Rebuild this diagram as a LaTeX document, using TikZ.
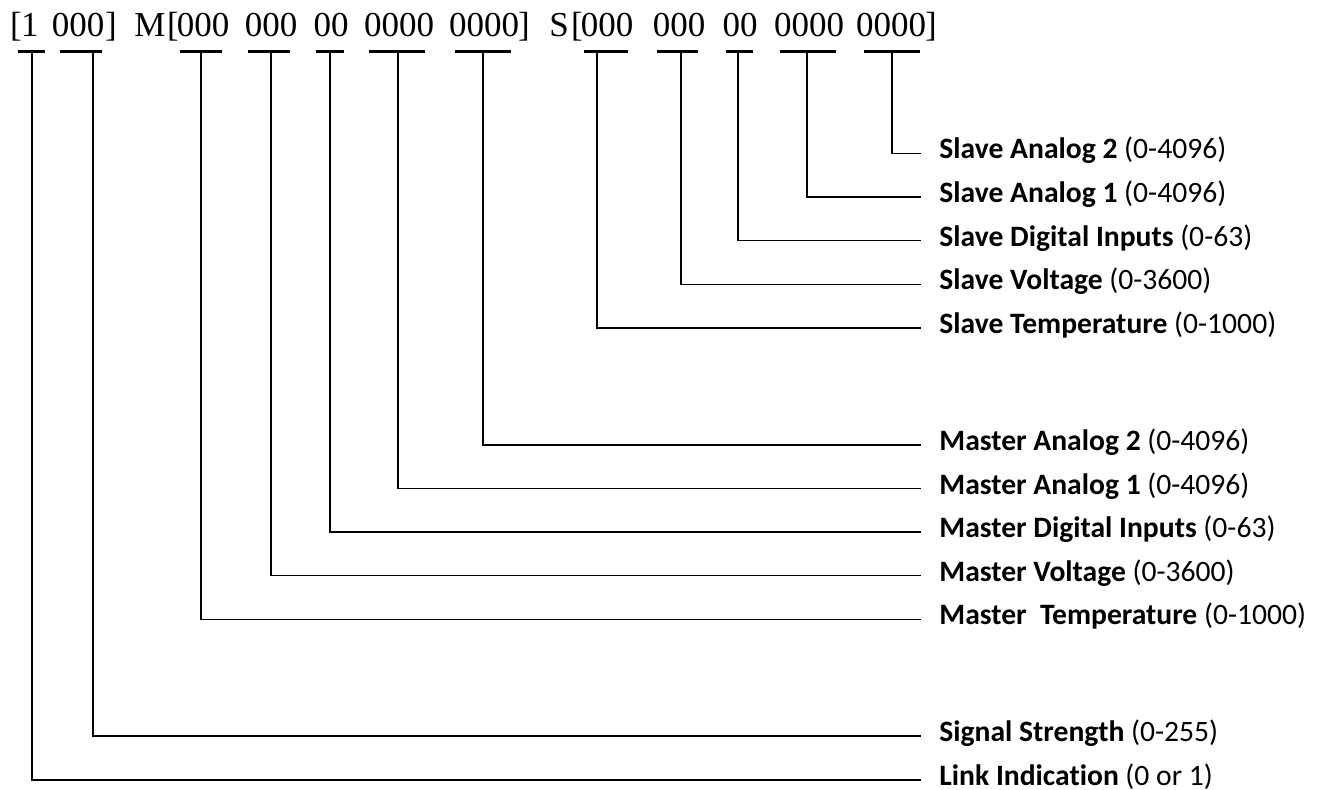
\documentclass[tikz,border=0pt]{standalone}
\usepackage{fontspec}
\newfontfamily\headfont{Liberation Serif}
\newfontfamily\labelfont[Ligatures=NoCommon]{Carlito}

\begin{document}
\begin{tikzpicture}[
		x=0.5pt, y=-0.5pt,
		digits/.style={font=\headfont\fontsize{17.5}{20}\selectfont, inner sep=0pt, anchor=base},
		bar/.style={fill=black},
		field/.style={anchor=west, inner xsep=9pt, inner ysep=0pt, text height=9.5pt, text depth=4pt,
			font=\labelfont\fontsize{14.8}{17}\selectfont},
		wire/.style={line width=0.75pt}
		]
		\useasboundingbox (0,0) rectangle (1320,790);
		
		% --- Frame brackets and letters ---
		\node[digits] (lb1) at (16,37) {[};
		\node[digits] (rb1) at (111,37) {]};
		\node[digits] (mm) at (150,37) {M};
		\node[digits] (lb2) at (173,37) {[};
		\node[digits] (rb2) at (524,37) {]};
		\node[digits] (ss) at (559,37) {S};
		\node[digits] (lb3) at (577,37) {[};
		\node[digits] (rb3) at (931,37) {]};
		
		% --- Digit groups ---
		\node[digits] (dlink) at (30,37) {1};
		\node[digits] (dsig) at (78,37) {000};
		\node[digits] (dmt) at (203,37) {000};
		\node[digits] (dmv) at (271,37) {000};
		\node[digits] (dmd) at (331,37) {00};
		\node[digits] (dma1) at (399,37) {0000};
		\node[digits] (dma2) at (484,37) {0000};
		\node[digits] (dst) at (607,37) {000};
		\node[digits] (dsv) at (679,37) {000};
		\node[digits] (dsd) at (740,37) {00};
		\node[digits] (dsa1) at (809,37) {0000};
		\node[digits] (dsa2) at (891,37) {0000};
		
		% --- Bars under the groups ---
		\fill[bar] (18,50) rectangle (45,53.5);
		\fill[bar] (60,50) rectangle (102,53.5);
		\fill[bar] (180,50) rectangle (222,53.5);
		\fill[bar] (248,50) rectangle (290,53.5);
		\fill[bar] (316,50) rectangle (344,53.5);
		\fill[bar] (369,50) rectangle (425,53.5);
		\fill[bar] (455,50) rectangle (511,53.5);
		\fill[bar] (584,50) rectangle (628,53.5);
		\fill[bar] (657,50) rectangle (698,53.5);
		\fill[bar] (726,50) rectangle (753,53.5);
		\fill[bar] (780,50) rectangle (836,53.5);
		\fill[bar] (864,50) rectangle (920,53.5);
		
		% Stem tops
		\coordinate (tlink) at (32,53);
		\coordinate (tsig) at (93,53);
		\coordinate (tmt) at (201,53);
		\coordinate (tmv) at (271,53);
		\coordinate (tmd) at (330,53);
		\coordinate (tma1) at (398,53);
		\coordinate (tma2) at (483,53);
		\coordinate (tst) at (597,53);
		\coordinate (tsv) at (681,53);
		\coordinate (tsd) at (738,53);
		\coordinate (tsa1) at (807,53);
		\coordinate (tsa2) at (892,53);
		
		% --- Field labels ---
		\node[field] (sa2) at (921,153.3) {\textbf{Slave Analog 2} (0-4096)};
		\node[field] (sa1) at (921,197) {\textbf{Slave Analog 1} (0-4096)};
		\node[field] (sd) at (921,240.7) {\textbf{Slave Digital Inputs} (0-63)};
		\node[field] (sv) at (921,284.4) {\textbf{Slave Voltage} (0-3600)};
		\node[field] (st) at (921,328) {\textbf{Slave Temperature} (0-1000)};
		\node[field] (ma2) at (921,445) {\textbf{Master Analog 2} (0-4096)};
		\node[field] (ma1) at (921,488.5) {\textbf{Master Analog 1} (0-4096)};
		\node[field] (md) at (921,532) {\textbf{Master Digital Inputs} (0-63)};
		\node[field] (mv) at (921,575.7) {\textbf{Master Voltage} (0-3600)};
		\node[field] (mt) at (921,619.3) {\textbf{Master\ \ Temperature} (0-1000)};
		\node[field] (sig) at (921,736) {\textbf{Signal Strength} (0-255)};
		\node[field] (link) at (921,780) {\textbf{Link Indication} (0 or 1)};
		
		% --- Stems from the bars to the labels ---
		\draw[wire] (tsa2) |- (sa2);
		\draw[wire] (tsa1) |- (sa1);
		\draw[wire] (tsd) |- (sd);
		\draw[wire] (tsv) |- (sv);
		\draw[wire] (tst) |- (st);
		\draw[wire] (tma2) |- (ma2);
		\draw[wire] (tma1) |- (ma1);
		\draw[wire] (tmd) |- (md);
		\draw[wire] (tmv) |- (mv);
		\draw[wire] (tmt) |- (mt);
		\draw[wire] (tsig) |- (sig);
		\draw[wire] (tlink) |- (link);
		
	\end{tikzpicture}
\end{document}
